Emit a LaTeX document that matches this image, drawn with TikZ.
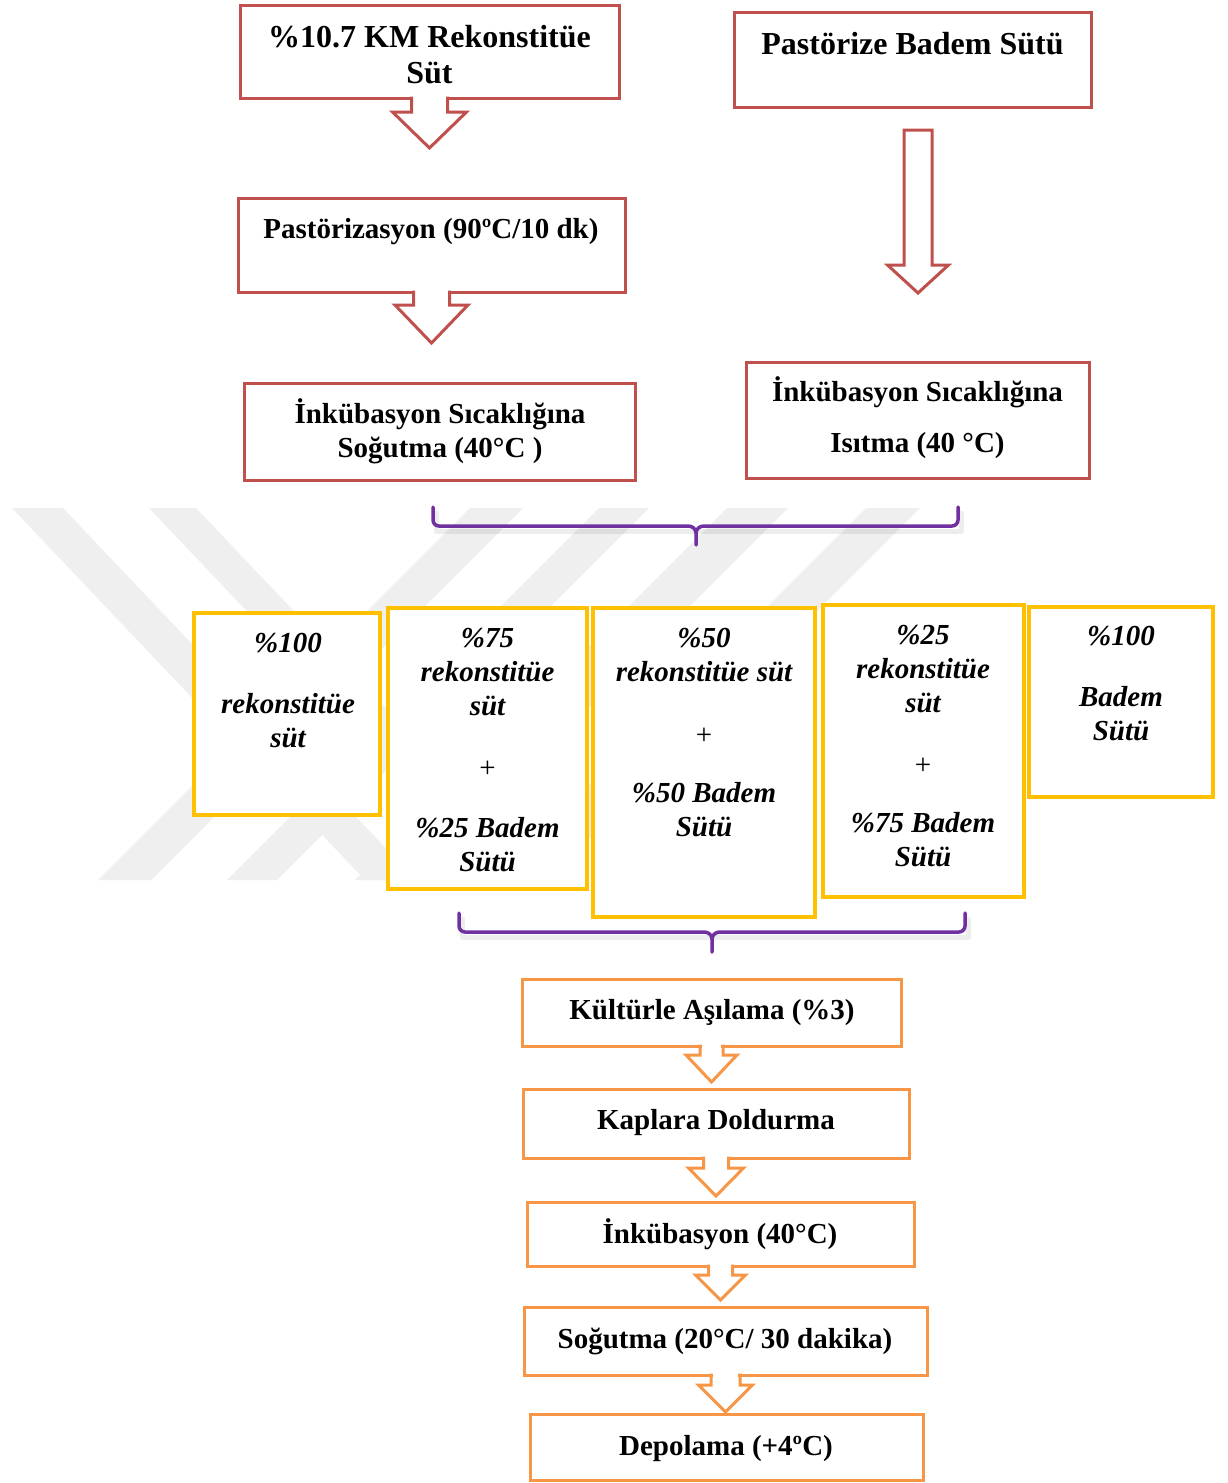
\documentclass[tikz,border=0pt]{standalone}
\usepackage{fontspec}
\setmainfont{Liberation Serif}
\usetikzlibrary{calc}

\definecolor{boxred}{HTML}{C0504D}
\definecolor{boxyellow}{HTML}{FFC000}
\definecolor{boxorange}{HTML}{F79646}
\definecolor{bracepurple}{HTML}{7030A0}
\definecolor{wmgray}{HTML}{EFEFEF}

\tikzset{
  box/.style={draw, fill=white, line width=3pt, inner sep=0pt, outer sep=0pt, line join=miter},
  redbox/.style={box, draw=boxred},
  yellowbox/.style={box, draw=boxyellow, line width=3.5pt},
  orangebox/.style={box, draw=boxorange},
  bigtxt/.style={font=\fontsize{32}{36}\selectfont\bfseries, align=center, inner sep=0pt},
  txt/.style={font=\fontsize{29}{34}\selectfont\bfseries, align=center, inner sep=0pt},
  itxt/.style={font=\fontsize{29}{34}\selectfont\bfseries\itshape, align=center, inner sep=0pt},
  brace/.style={draw=bracepurple, line width=3.5pt, line cap=round, line join=round},
  braceshadow/.style={draw=black, line width=5pt, opacity=0.07, line cap=round, line join=round},
}

% plus sign set in regular upright weight
\newcommand{\plussign}{{\mdseries\upshape +}}

% block arrow hanging below a box, sharing its outline
% #1 node, #2 colour, #3 stem half width, #4 head half width, #5 stem length, #6 total length
\newcommand{\downcallout}[6]{%
  \fill[white] ($(#1.south)+(-#3+1.6,-2.5)$) rectangle ($(#1.south)+(#3-1.6,2.5)$);
  \draw[draw=#2, line width=3pt, line join=miter]
    ($(#1.south)+(-#3,-1.5)$) -- ($(#1.south)+(-#3,#5)$) -- ($(#1.south)+(-#4,#5)$)
    -- ($(#1.south)+(0,#6)$) -- ($(#1.south)+(#4,#5)$) -- ($(#1.south)+(#3,#5)$)
    -- ($(#1.south)+(#3,-1.5)$);
}

\begin{document}
\begin{tikzpicture}[x=1pt,y=-1pt]
\useasboundingbox (0,0) rectangle (1227,1483);
\fill[white] (0,0) rectangle (1227,1483);

% faint background watermark of slanted bars
\begin{scope}
  \clip (0,508) rectangle (1227,880);
  \fill[wmgray] (12,508) -- (63,508) -- (416,880) -- (365,880) -- cycle;
  \fill[wmgray] (149,508) -- (196,508) -- (549,880) -- (502,880) -- cycle;
  \fill[wmgray] (470,508) -- (523,508) -- (151,880) -- (98,880) -- cycle;
  \fill[wmgray] (599,508) -- (649,508) -- (277,880) -- (227,880) -- cycle;
  \fill[wmgray] (727,508) -- (788,508) -- (416,880) -- (355,880) -- cycle;
  \fill[wmgray] (866,508) -- (920,508) -- (548,880) -- (494,880) -- cycle;
\end{scope}

% ---- red stage: milk preparation ----
\node[redbox, minimum width=379pt, minimum height=93pt] (b1) at (429.5,51.5) {};
\node[redbox, minimum width=357pt, minimum height=95pt] (b2) at (912.5,59.5) {};
\node[redbox, minimum width=387pt, minimum height=94pt] (b3) at (431.5,245) {};
\node[redbox, minimum width=391pt, minimum height=97pt] (b4) at (439.5,431.5) {};
\node[redbox, minimum width=343pt, minimum height=116pt] (b5) at (917.5,420) {};

\downcallout{b1}{boxred}{18}{37}{14}{50}
\downcallout{b3}{boxred}{18}{36.5}{13}{51}

% free standing block arrow between the almond milk boxes
\coordinate (a2) at ($(b2.south)+(5.5,23)$);
\draw[boxred, line width=3pt, line join=miter]
  ($(a2)+(-14,0)$) -- ($(a2)+(14,0)$) -- ($(a2)+(14,135)$) -- ($(a2)+(30.5,135)$)
  -- ($(a2)+(0,163)$) -- ($(a2)+(-30.5,135)$) -- ($(a2)+(-14,135)$) -- cycle;

\node[bigtxt] (t1) at (429.5,54.5) {\%10.7 KM Rekonstitüe\\Süt};
\node[bigtxt] (t2) at (912.5,44) {Pastörize Badem Sütü};
\node[txt] (t3) at (431,232) {Pastörizasyon (90ºC/10 dk)};
\node[txt] (t4) at (440,431) {İnkübasyon Sıcaklığına\\Soğutma (40°C )};
\node[txt] (t5) at (917.5,418) {İnkübasyon Sıcaklığına\\[17pt]Isıtma (40 °C)};

% ---- upper brace ----
\draw[braceshadow] (436,513) -- (436,531) -- (961,531) -- (961,513);
\draw[brace] (433,507) -- (433,520) to[out=-90,in=180] (439,526) -- (688,526) to[out=0,in=90] (696,533) -- (696,545);
\draw[brace] (958,507) -- (958,520) to[out=-90,in=0] (952,526) -- (704,526) to[out=180,in=90] (696,533);

% ---- yellow stage: blend ratios ----
\node[yellowbox, minimum width=186pt, minimum height=202pt] (y1) at (287,714) {};
\node[yellowbox, minimum width=199pt, minimum height=281pt] (y2) at (487.5,748.5) {};
\node[yellowbox, minimum width=222pt, minimum height=309pt] (y3) at (704,762.5) {};
\node[yellowbox, minimum width=201pt, minimum height=292pt] (y4) at (923.5,751) {};
\node[yellowbox, minimum width=184pt, minimum height=190pt] (y5) at (1121,702) {};

\node[itxt] (s1) at (288,691) {\%100\\[27pt]rekonstitüe\\süt};
\node[itxt] (s2) at (487.5,750) {\%75\\rekonstitüe\\süt\\[28pt]\plussign\\[26pt]\%25 Badem\\Sütü};
\node[itxt] (s3) at (704,733) {\%50\\rekonstitüe süt\\[29pt]\plussign\\[24pt]\%50 Badem\\Sütü};
\node[itxt] (s4) at (923,746.5) {\%25\\rekonstitüe\\süt\\[28pt]\plussign\\[24pt]\%75 Badem\\Sütü};
\node[itxt] (s5) at (1121,684) {\%100\\[27pt]Badem\\Sütü};

% ---- lower brace ----
\draw[braceshadow] (462,919) -- (462,937) -- (968,937) -- (968,919);
\draw[brace] (459,913) -- (459,926) to[out=-90,in=180] (465,932) -- (704,932) to[out=0,in=90] (712,939) -- (712,952);
\draw[brace] (965,913) -- (965,926) to[out=-90,in=0] (959,932) -- (720,932) to[out=180,in=90] (712,939);

% ---- orange stage: processing ----
\node[orangebox, minimum width=379pt, minimum height=67pt] (o1) at (711.5,1012.5) {};
\node[orangebox, minimum width=386pt, minimum height=69pt] (o2) at (716,1123.5) {};
\node[orangebox, minimum width=387pt, minimum height=64pt] (o3) at (720.5,1234) {};
\node[orangebox, minimum width=403pt, minimum height=68pt] (o4) at (725.5,1341) {};
\node[orangebox, minimum width=393pt, minimum height=66pt] (o5) at (726.5,1447) {};

\downcallout{o1}{boxorange}{11.5}{25.5}{9}{36}
\downcallout{o2}{boxorange}{12.5}{27.5}{10}{38}
\downcallout{o3}{boxorange}{12}{25}{9}{34}
\downcallout{o4}{boxorange}{14.5}{27}{10}{37}

\node[txt] (p1) at (712,1013) {Kültürle Aşılama (\%3)};
\node[txt] (p2) at (716,1123) {Kaplara Doldurma};
\node[txt] (p3) at (720,1234) {İnkübasyon (40°C)};
\node[txt] (p4) at (725,1341) {Soğutma (20°C/ 30 dakika)};
\node[txt] (p5) at (726,1449) {Depolama (+4ºC)};
\end{tikzpicture}
\end{document}
